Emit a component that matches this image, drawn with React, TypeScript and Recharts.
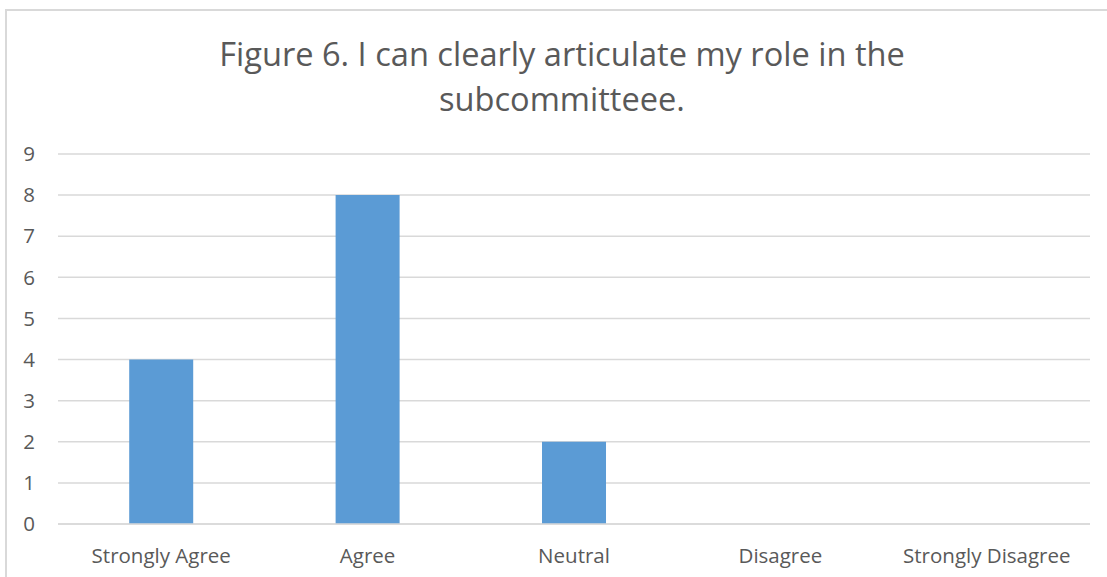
import React from "react";
import { BarChart, Bar, XAxis, YAxis, CartesianGrid } from "recharts";

const categories = ["Strongly Agree", "Agree", "Neutral", "Disagree", "Strongly Disagree"];
const counts = [4, 8, 2, 0, 0];
const yTicks = [0, 1, 2, 3, 4, 5, 6, 7, 8, 9];
const titleLines = ["Figure 6. I can clearly articulate my role in the", "subcommitteee."];

const data = categories.map((name, i) => ({ name, value: counts[i] }));

const FONT = "'Open Sans', sans-serif";
const TEXT = "#595959";

export default function App() {
  return (
    <div
      style={{
        position: "absolute",
        left: 0,
        top: 0,
        width: 1107,
        height: 577,
        overflow: "hidden",
        background: "#fff",
        fontFamily: FONT,
      }}
    >
      <div
        style={{
          position: "absolute",
          left: 5,
          top: 9,
          width: 1120,
          height: 600,
          border: "2px solid #d9d9d9",
        }}
      />
      <div
        style={{
          position: "absolute",
          left: 0,
          top: 31,
          width: 1124,
          textAlign: "center",
          fontSize: 32.6,
          lineHeight: "45px",
          color: TEXT,
          whiteSpace: "nowrap",
        }}
      >
        {titleLines.map((t) => (
          <div key={t}>{t}</div>
        ))}
      </div>
      <div style={{ position: "absolute", left: 0, top: 0 }}>
        <BarChart
          width={1107}
          height={577}
          data={data}
          margin={{ top: 154, right: 17, left: 0, bottom: 0 }}
          barCategoryGap="34.5%"
        >
          <CartesianGrid stroke="#d9d9d9" strokeWidth={1.5} vertical={false} />
          <XAxis
            dataKey="name"
            axisLine={{ stroke: "#d9d9d9", strokeWidth: 1.5 }}
            tickLine={false}
            tickSize={0}
            tickMargin={24}
            interval={0}
            height={53}
            tick={{ fill: TEXT, fontSize: 20.5, fontFamily: FONT }}
          />
          <YAxis
            domain={[0, 9]}
            ticks={yTicks}
            interval={0}
            axisLine={false}
            tickLine={false}
            tickSize={0}
            tickMargin={23}
            width={58}
            tick={{ fill: TEXT, fontSize: 20.5, fontFamily: FONT }}
          />
          <Bar dataKey="value" fill="#5b9bd5" isAnimationActive={false} />
        </BarChart>
      </div>
    </div>
  );
}
